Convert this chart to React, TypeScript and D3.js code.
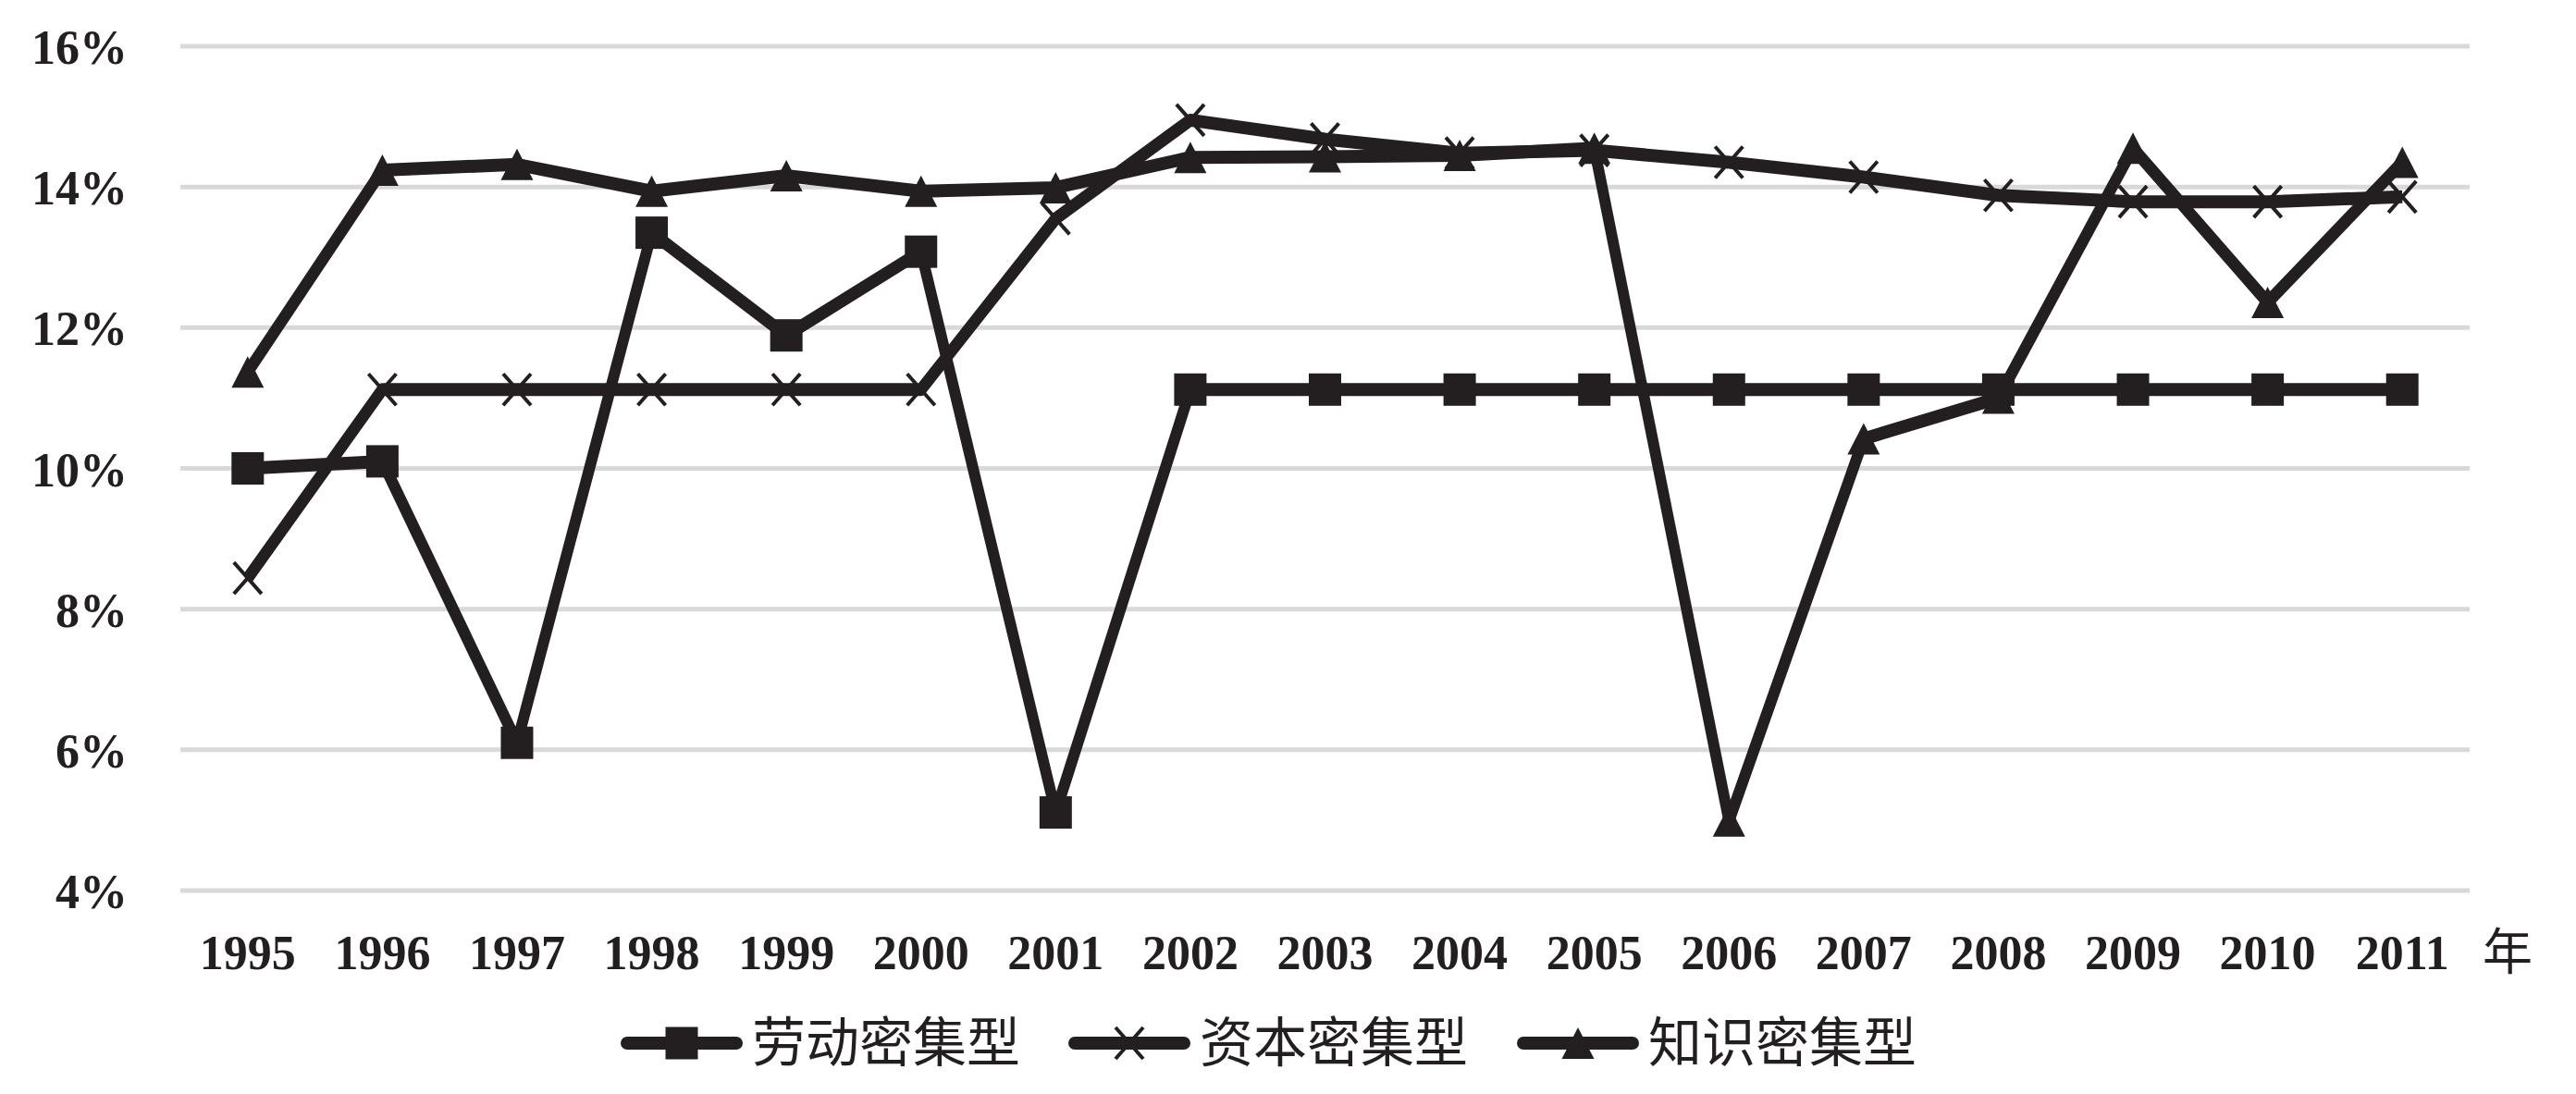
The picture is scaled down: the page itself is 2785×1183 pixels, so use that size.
import React, { useMemo } from 'react';
import * as d3 from 'd3';

// years on the x axis
const years = [
  '1995', '1996', '1997', '1998', '1999', '2000', '2001', '2002', '2003',
  '2004', '2005', '2006', '2007', '2008', '2009', '2010', '2011',
];

// shares in percent
const labour = [10.0, 10.1, 6.1, 13.35, 11.89, 13.08, 5.11, 11.12, 11.12, 11.12, 11.12, 11.12, 11.12, 11.12, 11.12, 11.12, 11.12];
const capital = [8.44, 11.12, 11.12, 11.12, 11.12, 11.12, 13.55, 14.95, 14.68, 14.48, 14.52, 14.35, 14.14, 13.88, 13.79, 13.79, 13.86];
const knowledge = [11.37, 14.24, 14.32, 13.94, 14.16, 13.94, 13.99, 14.42, 14.43, 14.45, 14.55, 4.99, 10.42, 11.0, 14.55, 12.36, 14.35];

const yTicks = [4, 6, 8, 10, 12, 14, 16];

const seriesNames = ['劳动密集型', '资本密集型', '知识密集型'];
const markerKinds = ['square', 'cross', 'triangle'];

const WIDTH = 2785;
const HEIGHT = 1183;
const INK = '#231f20';
const GRID = '#d9d9d9';
const NUM_FONT = '"Liberation Serif", "Times New Roman", serif';
const CJK_FONT = '"Noto Sans CJK SC", "Noto Sans", sans-serif';
// the source picture is squeezed sideways, so steep strokes come out thinner
const SQUEEZE = 0.85;

function Marker({ kind, x, y }: { kind: string; x: number; y: number }) {
  if (kind === 'square') {
    return <rect x={x - 17.5} y={y - 17.5} width={35} height={35} fill={INK} />;
  }
  if (kind === 'triangle') {
    const w = 35;
    const h = 34;
    return (
      <path
        d={`M${x},${y - h / 2}L${x + w / 2},${y + h / 2}L${x - w / 2},${y + h / 2}Z`}
        fill={INK}
      />
    );
  }
  const dx = 15;
  const dy = 17;
  return (
    <path
      d={`M${x - dx},${y - dy}L${x + dx},${y + dy}M${x + dx},${y - dy}L${x - dx},${y + dy}`}
      stroke={INK}
      strokeWidth={4}
      fill="none"
    />
  );
}

export default function App() {
  const x = useMemo(
    () => d3.scaleBand<string>().domain(years).range([195, 2670]),
    []
  );
  const y = useMemo(() => d3.scaleLinear().domain([4, 16]).range([963, 50]), []);

  const cx = (yr: string) => (x(yr) as number) + x.bandwidth() / 2;

  // drawn inside a group scaled by SQUEEZE, so x is pre-divided
  const line = d3
    .line<number>()
    .x((_, i) => cx(years[i]) / SQUEEZE)
    .y((d) => y(d));

  const allSeries = [labour, capital, knowledge];

  // legend layout
  const legendX = [671, 1155, 1640];
  const legendY = 1128;

  return (
    <svg
      width={WIDTH}
      height={HEIGHT}
      style={{ position: 'absolute', left: 0, top: 0, background: '#fff' }}
    >
      {/* grid + y labels */}
      {yTicks.map((t) => (
        <g key={t}>
          <line x1={195} x2={2670} y1={y(t)} y2={y(t)} stroke={GRID} strokeWidth={5} />
          <text
            x={138}
            y={y(t) + 19}
            textAnchor="end"
            fontFamily={NUM_FONT}
            fontWeight="bold"
            fontSize={52}
            fill={INK}
          >
            {t}%
          </text>
        </g>
      ))}

      {/* x labels */}
      {years.map((yr) => (
        <text
          key={yr}
          x={cx(yr)}
          y={1048}
          textAnchor="middle"
          fontFamily={NUM_FONT}
          fontWeight="bold"
          fontSize={52}
          fill={INK}
        >
          {yr}
        </text>
      ))}
      <text x={2684} y={1049} fontFamily={CJK_FONT} fontSize={54} fill={INK}>
        年
      </text>

      {/* series */}
      {allSeries.map((s, si) => (
        <g key={seriesNames[si]}>
          <g transform={`scale(${SQUEEZE},1)`}>
            <path
              d={line(s) as string}
              fill="none"
              stroke={INK}
              strokeWidth={14}
              strokeLinejoin="round"
            />
          </g>
          {s.map((v, i) => (
            <Marker key={i} kind={markerKinds[si]} x={cx(years[i])} y={y(v)} />
          ))}
        </g>
      ))}

      {/* legend */}
      {seriesNames.map((name, i) => (
        <g key={name}>
          <line
            x1={legendX[i] + 7}
            x2={legendX[i] + 125}
            y1={legendY}
            y2={legendY}
            stroke={INK}
            strokeWidth={14}
            strokeLinecap="round"
          />
          <Marker kind={markerKinds[i]} x={legendX[i] + 66} y={legendY} />
          <text
            x={legendX[i] + 142}
            y={legendY + 20}
            fontFamily={CJK_FONT}
            fontSize={58}
            fill={INK}
          >
            {name}
          </text>
        </g>
      ))}
    </svg>
  );
}
